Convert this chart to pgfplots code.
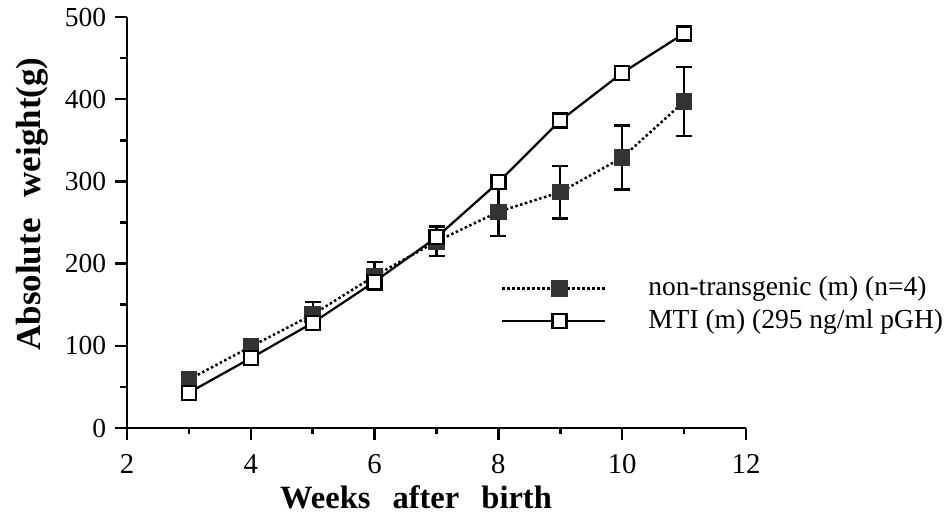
\documentclass[border=0pt]{standalone}
\usepackage{fontspec}
\setmainfont{Liberation Serif}
\usepackage{graphicx}
\usepackage{pgfplots}
\pgfplotsset{compat=1.18}
\definecolor{darkfill}{HTML}{333333}
\begin{document}
\begin{tikzpicture}
\begin{axis}[
  scale only axis, width=247.6pt, height=164.4pt,
  xmin=2, xmax=12, ymin=0, ymax=500,
  axis lines=left, axis line style={-, line width=1pt},
  xtick={2,4,...,12}, minor xtick={3,5,...,11},
  ytick={0,100,...,500}, minor ytick={50,150,...,450},
  tick align=outside, major tick length=4.8pt, minor tick length=2.6pt,
  tick style={black, line width=1pt},
  /pgf/number format/assume math mode=true,
  xticklabel style={font=\fontsize{11.5}{13}\selectfont, yshift=-2.4pt},
  yticklabel style={font=\fontsize{11}{13}\selectfont},
  xlabel={\fontsize{13}{15}\selectfont\bfseries Weeks\hspace{0.43em} after\hspace{0.43em} birth},
  ylabel={\fontsize{14}{17}\selectfont\bfseries Absolute\hspace{0.35em} weight(g)},
  xlabel style={at={(ticklabel cs:0.467)}, inner sep=1pt},
  ylabel style={at={(ticklabel cs:0.545)}},
  clip=false,
  legend cell align=left,
  legend style={draw=none, fill=none, at={(axis cs:8.03,150)}, anchor=west,
    inner sep=0pt, column sep=15pt, row sep=0pt,
    font=\fontsize{11}{13}\selectfont},
  legend image code/.code={\draw[mark repeat=2, mark phase=2, #1] plot coordinates {(0pt,0pt) (23pt,0pt) (41pt,0pt)};},
]
\addplot[black, densely dotted, line width=1pt,
  mark=square*, mark size=2.8pt, mark options={solid, fill=darkfill, draw=darkfill},
  error bars/.cd, y dir=both, y explicit,
  error bar style={solid, line width=0.9pt, black},
  error mark options={solid, mark size=3.2pt, line width=0.9pt, black, rotate=90}]
table[x=x, y=y, y error=e] {
x y e
3 59 5
4 99 5
5 138 15
6 185 17
7 227 18
8 263 29
9 287 32
10 329 39
11 397 42
};
\addlegendentry{non-transgenic (m) (n=4)}
\addplot[black, solid, line width=0.9pt,
  mark=square*, mark size=2.8pt, mark options={fill=white, draw=black, line width=0.9pt}]
table[x=x, y=y] {
x y
3 43
4 85
5 128
6 178
7 232
8 299
9 374
10 432
11 480
};
\addlegendentry{MTI (m) (295 ng/ml pGH)}
\coordinate (O) at (rel axis cs:0,0);
\end{axis}
\pgfresetboundingbox
\path[use as bounding box] (O) ++(-50.8pt,-34pt) rectangle ++(377.6pt,205.2pt);
\end{tikzpicture}
\end{document}
